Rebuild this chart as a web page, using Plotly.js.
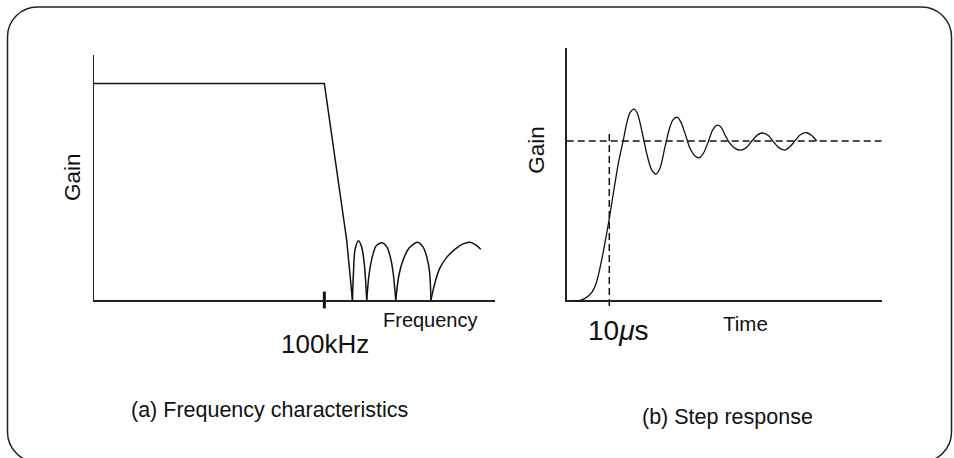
<!DOCTYPE html>
<html>
<head>
<meta charset="utf-8">
<script src="https://cdn.plot.ly/plotly-3.0.1.min.js"></script>
<style>html,body{margin:0;padding:0;background:#fff;}#chart{width:954px;height:458px;}</style>
</head>
<body>
<div id="chart"></div>
<script>
// ---- (a) Frequency characteristics (frequency in kHz-like units, 100 = 100kHz) ----
var passX = [0, 100, 109.7, 112.2];
var passY = [0.884, 0.884, 0.245, 0];
var lobeX = [112.2,112.7,113.3,114.8,116.2,117.4,118.4, null,
             118.4,119.4,120.7,122.4,124.9,127.2,128.96,130.0,131.0, null,
             131.0,132.4,134.2,136.8,140.4,142.9,144.6,145.7,146.3, null,
             146.3,148.1,150.2,153.3,156.8,160.2,163.3,165.9,167.9];
var lobeY = [0,0.122,0.204,0.242,0.216,0.143,0, null,
             0,0.102,0.171,0.220,0.234,0.216,0.163,0.102,0, null,
             0,0.102,0.163,0.212,0.236,0.216,0.171,0.114,0, null,
             0,0.073,0.131,0.176,0.208,0.229,0.236,0.224,0.207];
var cutoffX = [100];
var cutoffY = [0];
var cutoffLabel = '100kHz';

// ---- (b) Step response (time in microseconds, gain normalised to 1) ----
var stepT = [1.56,2.73,4.30,5.86,7.03,8.21,9.38,10.0,10.95,12.12,13.29,14.08,14.86,15.80,16.58,17.60,
             18.77,19.95,20.96,21.90,23.08,24.25,25.03,25.97,26.75,27.77,28.94,30.12,31.13,32.07,
             33.25,34.26,35.20,36.14,37.16,38.33,39.51,41.07,42.25,43.65,44.98,46.16,47.33,48.51,
             49.69,51.25,52.42,53.60,54.77,56.34,57.51,58.69];
var stepG = [-0.004,-0.006,0.010,0.046,0.115,0.252,0.419,0.514,0.671,0.860,1.006,1.111,1.178,1.201,1.174,1.069,
             0.922,0.818,0.792,0.828,0.964,1.090,1.136,1.149,1.122,1.048,0.954,0.906,0.895,0.922,
             0.996,1.069,1.099,1.090,1.038,0.985,0.954,0.943,0.960,1.006,1.042,1.050,1.034,0.996,
             0.960,0.943,0.964,1.002,1.038,1.052,1.034,1.000];
var finalT = [0, 73.94];
var finalG = [1, 1];
var markT = [10, 10];
var markG = [1.044, -0.05];
var markLabel = '10<i>μ</i>s';

var W = 954, H = 458;
function px(x){ return x / W; }
function py(y){ return 1 - y / H; }
var FONT = 'Liberation Sans, Arial, Helvetica, sans-serif';
var INK = '#111';

var traces = [
  {x: passX, y: passY, xaxis:'x', yaxis:'y', mode:'lines', line:{color:INK, width:1.5}, hoverinfo:'skip'},
  {x: lobeX, y: lobeY, xaxis:'x', yaxis:'y', mode:'lines', connectgaps:false,
   line:{color:INK, width:1.5, shape:'spline', smoothing:0.8}, hoverinfo:'skip'},
  {x: cutoffX, y: cutoffY, xaxis:'x', yaxis:'y', mode:'markers', cliponaxis:false,
   marker:{symbol:'line-ns-open', size:12, color:INK, line:{color:INK, width:3}}, hoverinfo:'skip'},
  {x: finalT, y: finalG, xaxis:'x2', yaxis:'y2', mode:'lines',
   line:{color:INK, width:1.5, dash:'7px,4px'}, hoverinfo:'skip'},
  {x: stepT, y: stepG, xaxis:'x3', yaxis:'y3', mode:'lines',
   line:{color:INK, width:1.3, shape:'spline', smoothing:0.8}, hoverinfo:'skip'},
  {x: markT, y: markG, xaxis:'x3', yaxis:'y3', mode:'lines',
   line:{color:INK, width:1.5, dash:'7px,4px'}, hoverinfo:'skip'}
];

var axBase = {showgrid:false, zeroline:false, showticklabels:false, ticks:'', fixedrange:true};
function ax(extra){ var o = {}; for (var k in axBase) o[k]=axBase[k]; for (var k2 in extra) o[k2]=extra[k2]; return o; }

// rounded frame
var L=7.5, T=7, R=951.5, B=462, r=30, k=0.5523*r;
function P(x,y){ return px(x).toFixed(5)+','+py(y).toFixed(5); }
var framePath = 'M'+P(L+r,T)+' L'+P(R-r,T)+' C'+P(R-r+k,T)+' '+P(R,T+r-k)+' '+P(R,T+r)+
  ' L'+P(R,B-r)+' C'+P(R,B-r+k)+' '+P(R-r+k,B)+' '+P(R-r,B)+
  ' L'+P(L+r,B)+' C'+P(L+r-k,B)+' '+P(L,B-r+k)+' '+P(L,B-r)+
  ' L'+P(L,T+r)+' C'+P(L,T+r-k)+' '+P(L+r-k,T)+' '+P(L+r,T)+' Z';

function ann(text, x, y, size, extra){
  var a = {text:text, x:px(x), y:py(y), xref:'paper', yref:'paper', showarrow:false,
           xanchor:'center', yanchor:'middle', font:{family:FONT, size:size, color:INK}};
  if (extra) for (var kk in extra) a[kk]=extra[kk];
  return a;
}

var layout = {
  width: W, height: H,
  margin: {l:0, r:0, t:0, b:0, pad:0},
  paper_bgcolor:'#fff', plot_bgcolor:'rgba(0,0,0,0)',
  showlegend:false,
  xaxis: ax({domain:[px(94), px(495)], range:[0,174.1], anchor:'y', showline:true, linecolor:'#222', linewidth:1.5}),
  yaxis: ax({domain:[py(300), py(55)], range:[0,1], anchor:'x', showline:true, linecolor:'#222', linewidth:1.5}),
  xaxis2: ax({domain:[px(566.7), px(881.7)], range:[0,73.94], anchor:'y2', showline:true, linecolor:'#222', linewidth:1.5}),
  yaxis2: ax({domain:[py(300), py(48.3)], range:[0,1.583], anchor:'x2', showline:true, linecolor:'#222', linewidth:1.5}),
  xaxis3: ax({domain:[px(566.7), px(881.7)], range:[0,73.94], anchor:'y3', visible:false}),
  yaxis3: ax({domain:[py(310), py(48.3)], range:[-0.0629,1.583], anchor:'x3', visible:false}),
  shapes: [{type:'path', path:framePath, xref:'paper', yref:'paper', line:{color:'#222', width:1.5}, fillcolor:'rgba(0,0,0,0)', layer:'below'}],
  annotations: [
    ann('Gain', 72.5, 177.5, 22.5, {textangle:-90}),
    ann('Frequency', 430.8, 319.7, 20),
    ann(cutoffLabel, 325, 343.5, 26),
    ann('(a) Frequency characteristics', 269.8, 409.7, 21.5),
    ann('Gain', 535.7, 150, 22.5, {textangle:-90}),
    ann(markLabel, 618.3, 330.7, 28),
    ann('Time', 745.8, 323.3, 20.5),
    ann('(b) Step response', 727, 416.7, 21.5)
  ]
};

Plotly.newPlot('chart', traces, layout, {staticPlot:true, displayModeBar:false});
</script>
</body>
</html>
